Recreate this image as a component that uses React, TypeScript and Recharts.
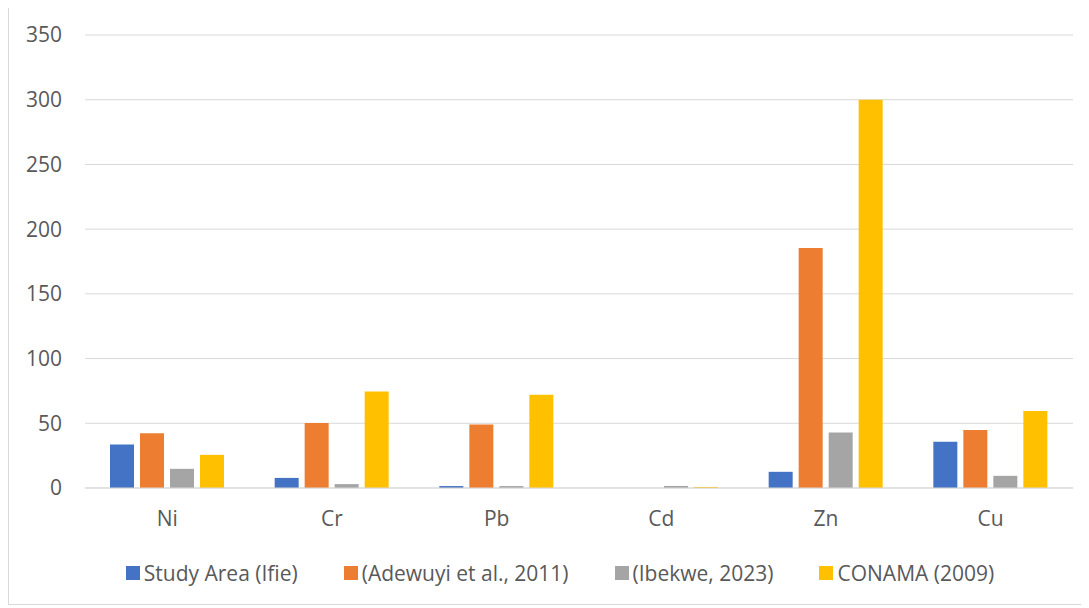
import { FC } from 'react';
import {
  Bar,
  BarChart,
  CartesianGrid,
  Legend,
  XAxis,
  YAxis,
} from 'recharts';

const metals = ['Ni', 'Cr', 'Pb', 'Cd', 'Zn', 'Cu'];

const studyArea = [33.6, 7.8, 1.5, 0, 12.5, 35.8];
const adewuyi = [42.3, 50.2, 49, 0, 185.5, 44.8];
const ibekwe = [14.8, 3, 1.5, 1.6, 42.8, 9.4];
const conama = [25.6, 74.5, 72, 0.8, 300, 59.5];

const yTicks = [0, 50, 100, 150, 200, 250, 300, 350];

const series = [
  { key: 'study', name: 'Study Area (Ifie)', color: '#4472C4' },
  { key: 'adewuyi', name: '(Adewuyi et al., 2011)', color: '#ED7D31' },
  { key: 'ibekwe', name: '(Ibekwe, 2023)', color: '#A5A5A5' },
  { key: 'conama', name: 'CONAMA (2009)', color: '#FFC000' },
];

const data = metals.map((metal, i) => ({
  metal,
  study: studyArea[i],
  adewuyi: adewuyi[i],
  ibekwe: ibekwe[i],
  conama: conama[i],
}));

const font = '"Open Sans", sans-serif';
const textColor = '#595959';

// legend keeps the series order instead of recharts' sorted payload
const LegendContent: FC = () => (
  <div
    style={{
      display: 'flex',
      justifyContent: 'center',
      alignItems: 'center',
      gap: 46,
      fontFamily: font,
      fontSize: 21,
      color: textColor,
      height: 30,
      paddingLeft: 38,
    }}
  >
    {series.map((s) => (
      <div key={s.key} style={{ display: 'flex', alignItems: 'center' }}>
        <span
          style={{
            display: 'inline-block',
            width: 14,
            height: 14,
            background: s.color,
            marginRight: 4,
          }}
        />
        {s.name}
      </div>
    ))}
  </div>
);

const App: FC = () => {
  return (
    <div
      style={{
        width: 1080,
        height: 600,
        marginTop: -3,
        border: '1px solid #d9d9d9',
        borderRight: 'none',
        boxSizing: 'border-box',
        background: '#fff',
      }}
    >
      <BarChart
        width={1080}
        height={598}
        data={data}
        barGap={6}
        margin={{ top: 29, right: 16, left: 0, bottom: 16 }}
      >
        <CartesianGrid vertical={false} stroke="#d9d9d9" />
        <XAxis
          dataKey="metal"
          axisLine={{ stroke: '#d9d9d9' }}
          tickLine={false}
          tickSize={0}
          tickMargin={23}
          height={70}
          tick={{ fill: textColor, fontSize: 21, fontFamily: font }}
        />
        <YAxis
          domain={[0, 350]}
          ticks={yTicks}
          axisLine={false}
          tickLine={false}
          tickSize={0}
          tickMargin={23}
          width={76}
          tick={{ fill: textColor, fontSize: 21, fontFamily: font }}
        />
        <Legend verticalAlign="bottom" content={<LegendContent />} />
        {series.map((s) => (
          <Bar
            key={s.key}
            dataKey={s.key}
            name={s.name}
            fill={s.color}
            barSize={24}
            isAnimationActive={false}
          />
        ))}
      </BarChart>
    </div>
  );
};

export default App;
